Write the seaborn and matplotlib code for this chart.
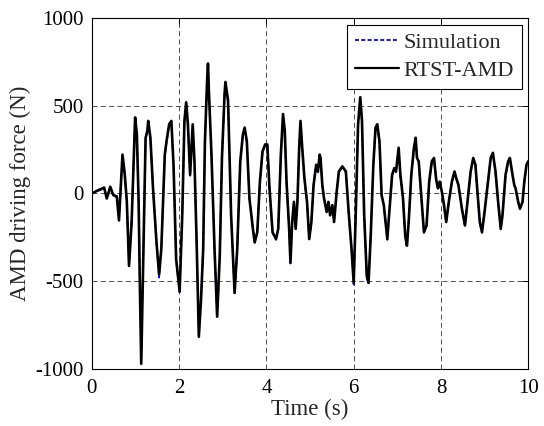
import numpy as np
import pandas as pd
import seaborn as sns
import matplotlib
matplotlib.use("Agg")
import matplotlib.pyplot as plt
from matplotlib.lines import Line2D

# ---- data ----
time_s = [
    0.00, 0.15, 0.28, 0.34, 0.42, 0.49, 0.57, 0.62, 0.70, 0.75, 0.80, 0.85, 0.91, 0.99,
    1.03, 1.07, 1.10, 1.13, 1.18, 1.23, 1.27, 1.29, 1.34, 1.40, 1.48, 1.54, 1.59, 1.67, 1.71, 1.77, 1.82, 1.87, 1.93,
    2.01, 2.07, 2.12, 2.16, 2.20, 2.25, 2.31, 2.35, 2.40, 2.45, 2.50, 2.55, 2.59, 2.64, 2.66, 2.68, 2.74, 2.81, 2.87, 2.93, 2.98,
    3.04, 3.06, 3.12, 3.19, 3.27, 3.33, 3.40, 3.46, 3.50, 3.55, 3.61, 3.69, 3.73, 3.79, 3.85, 3.91, 3.97,
    4.02, 4.07, 4.14, 4.22, 4.27, 4.33, 4.38, 4.42, 4.46, 4.52, 4.55, 4.59, 4.63, 4.67, 4.71, 4.75, 4.78, 4.82, 4.87, 4.93, 4.98,
    5.03, 5.08, 5.14, 5.18, 5.22, 5.24, 5.28, 5.32, 5.38, 5.42, 5.46, 5.51, 5.55, 5.61, 5.66, 5.74, 5.82, 5.89, 5.95,
    6.00, 6.05, 6.10, 6.15, 6.19, 6.24, 6.30, 6.34, 6.39, 6.45, 6.50, 6.54, 6.59, 6.64, 6.69, 6.77, 6.81, 6.88, 6.93, 6.97,
    7.03, 7.07, 7.13, 7.18, 7.22, 7.26, 7.32, 7.38, 7.42, 7.45, 7.49, 7.56, 7.61, 7.67, 7.73, 7.79, 7.84, 7.89, 7.93, 7.97,
    8.02, 8.07, 8.12, 8.18, 8.25, 8.31, 8.35, 8.40, 8.48, 8.55, 8.60, 8.68, 8.74, 8.79, 8.83, 8.89, 8.94, 8.99,
    9.06, 9.14, 9.19, 9.25, 9.31, 9.37, 9.41, 9.48, 9.54, 9.58, 9.64, 9.68, 9.71, 9.77, 9.81, 9.87, 9.91, 9.96, 10.00,
]
rtst_force = [
    0, 19, 33, -29, 38, -10, -19, -154, 221, 115, -48, -413, -163, 433,
    337, -48, -548, -971, -317, 317, 356, 413, 317, 29, -279, -462, -317, 221, 298, 394, 413, 163, -375,
    -558, -125, 413, 519, 394, 106, 394, 183, -279, -817, -606, -317, 298, 644, 740, 587, 221, -317, -702, -356, 202,
    567, 635, 529, -125, -567, -317, 183, 337, 375, 298, -29, -202, -279, -221, 67, 240, 279,
    279, 29, -221, -260, -202, 221, 452, 356, 67, -202, -394, -163, -48, -202, -48, 260, 413, 260, 87, -48, -260,
    -163, 48, 163, 125, 221, 202, 48, -29, -106, -48, -125, -67, -163, 10, 125, 154, 125, -125, -317,
    -510, -87, 394, 548, 413, -125, -471, -510, -240, 163, 375, 394, 298, -10, -67, -260, -125, 106, 144, 125,
    260, 106, -29, -240, -298, -163, 106, 260, 317, 202, 183, -48, -221, -183, 67, 183, 202, 80, 29, 67,
    10, -67, -163, -48, 67, 125, 87, 48, -87, -183, -67, 125, 202, 163, 29, -163, -221, -125,
    29, 202, 231, 125, -48, -202, -125, 106, 183, 202, 106, 48, 29, -48, -87, -48, 67, 163, 183,
]
sim_force = [
    0, 15, 28, -22, 32, -8, -15, -140, 210, 110, -40, -420, -150, 425,
    330, -40, -560, -930, -300, 310, 350, 405, 310, 25, -285, -480, -310, 215, 290, 390, 405, 160, -380,
    -565, -120, 405, 510, 385, 100, 385, 180, -285, -800, -600, -310, 290, 630, 720, 580, 215, -320, -710, -350, 195,
    560, 625, 520, -130, -575, -310, 180, 330, 370, 290, -30, -205, -285, -215, 60, 235, 270,
    270, 25, -225, -265, -195, 215, 445, 350, 60, -205, -400, -160, -50, -195, -45, 255, 405, 255, 80, -50, -265,
    -160, 45, 160, 120, 215, 195, 45, -30, -100, -50, -120, -65, -155, 10, 120, 150, 120, -130, -320,
    -520, -80, 385, 540, 405, -130, -480, -515, -235, 160, 370, 388, 290, -15, -70, -265, -120, 100, 140, 120,
    255, 100, -30, -245, -300, -160, 100, 255, 310, 200, 178, -50, -225, -180, 62, 178, 198, 78, 28, 62,
    8, -70, -165, -45, 62, 120, 85, 45, -90, -188, -62, 120, 198, 160, 25, -168, -225, -120,
    25, 198, 225, 120, -50, -205, -120, 100, 178, 198, 100, 45, 25, -50, -90, -45, 62, 160, 180,
]
series_names = ["Simulation", "RTST-AMD"]
x_ticks = [0, 2, 4, 6, 8, 10]
y_ticks = [-1000, -500, 0, 500, 1000]

df = pd.concat([
    pd.DataFrame({"Time": time_s, "Force": sim_force, "Series": series_names[0]}),
    pd.DataFrame({"Time": time_s, "Force": rtst_force, "Series": series_names[1]}),
], ignore_index=True)

sns.set_style("white")
plt.rcParams["font.family"] = ["Liberation Serif", "DejaVu Serif"]

fig = plt.figure(figsize=(5.44, 4.26), dpi=100)
ax = fig.add_axes([0.169, 0.134, 0.802, 0.824])

sns.lineplot(data=df, x="Time", y="Force", hue="Series", style="Series",
             hue_order=series_names, style_order=series_names,
             palette={"Simulation": "#0000ff", "RTST-AMD": "#000000"},
             dashes={"Simulation": (2.5, 1.5), "RTST-AMD": ""},
             sort=False, estimator=None, ax=ax, legend=False)
lines = ax.get_lines()
lines[0].set_linewidth(1.2)
lines[1].set_linewidth(1.9)
lines[1].set_zorder(3)

ax.set_xlim(0, 10)
ax.set_ylim(-1000, 1000)
ax.set_xticks(x_ticks)
ax.set_yticks(y_ticks)
ax.set_xticklabels([str(v) for v in x_ticks])
ax.set_yticklabels([str(v) for v in y_ticks])
ax.tick_params(direction="in", length=4, width=0.7, top=True, right=True,
               labelsize=15, colors="black")
ax.tick_params(axis="x", pad=7)
ax.tick_params(axis="y", pad=6)
ax.set_xlabel("Time (s)", fontsize=16.5, labelpad=1)
ax.set_ylabel("AMD driving force (N)", fontsize=16.5, labelpad=3)
for s in ax.spines.values():
    s.set_color("black")
    s.set_linewidth(0.8)

ax.grid(True, color="#303030", linestyle=(0, (6, 4)), linewidth=0.6)
ax.set_axisbelow(True)

handles = [Line2D([], [], color="#0000ff", lw=1.3, dashes=(2.2, 1.3)),
           Line2D([], [], color="black", lw=1.6)]
leg = ax.legend(handles, series_names, loc="upper right", fontsize=16,
                frameon=True, fancybox=False, edgecolor="black", framealpha=1,
                borderaxespad=0.3, handlelength=2.0, handletextpad=0.2,
                borderpad=0.35, labelspacing=0.35)
leg.get_frame().set_linewidth(0.8)

fig.savefig("out.png", dpi=100, facecolor="white")
